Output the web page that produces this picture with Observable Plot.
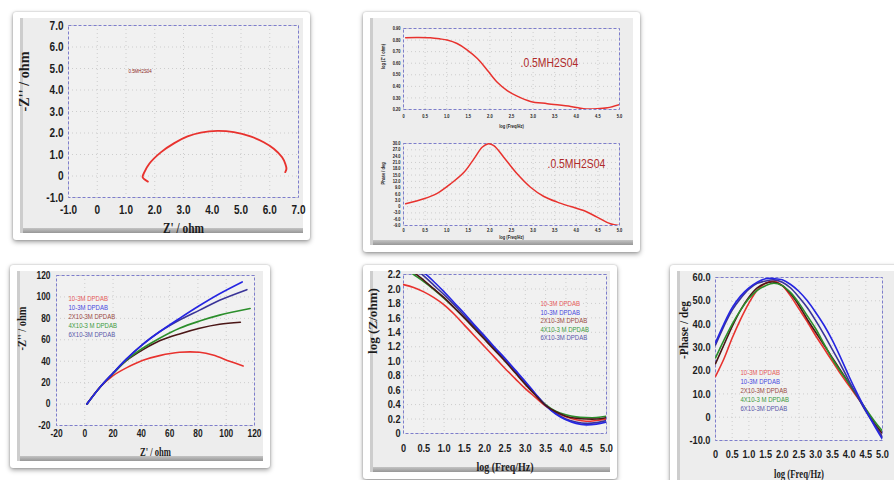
<!DOCTYPE html>
<html>
<head>
<meta charset="utf-8">
<script src="https://cdn.jsdelivr.net/npm/d3@7"></script>
<script src="https://cdn.jsdelivr.net/npm/@observablehq/plot@0.6"></script>
<style>
  html, body { margin: 0; padding: 0; background: #fff; }
  #root { position: relative; width: 894px; height: 480px; overflow: hidden; background: #fff; }
  .card { position: absolute; background: #fff; border-radius: 3px;
          box-shadow: 0 2px 5px rgba(0,0,0,0.38), 0 0 2px rgba(0,0,0,0.25); }
  .inner { position: absolute;
           background: linear-gradient(to top, #979797 0px, #c4c4c4 5px, #ededed 5px, #ededed 100%);
           box-shadow: inset 3px 0 0 #cdcdcd; }
</style>
</head>
<body>
<div id="root"></div>
<script>
// ---------------- DATA ----------------
// Panel A: Nyquist, 0.5M H2SO4
const acidZre = [1.76, 1.58, 1.64, 1.81, 2.22, 2.68, 3.14, 3.60, 4.18, 4.75, 5.33, 5.79, 6.14, 6.43, 6.54, 6.58, 6.54];
const acidZim = [-0.26, -0.06, 0.18, 0.57, 1.11, 1.53, 1.84, 2.02, 2.10, 2.04, 1.84, 1.57, 1.27, 0.87, 0.57, 0.33, 0.18];
const acidNyqLabel = "0.5MH2S04";

// Panel B: Bode |Z|, 0.5M H2SO4
const acidLogF = [0.05, 0.3, 0.62, 0.85, 1.01, 1.24, 1.47, 1.71, 1.94, 2.17, 2.40, 2.63, 2.94, 3.33, 3.87, 4.17, 4.48, 4.72, 5.0];
const acidLogZ = [0.82, 0.822, 0.82, 0.81, 0.80, 0.77, 0.716, 0.64, 0.54, 0.436, 0.364, 0.315, 0.27, 0.25, 0.226, 0.206, 0.206, 0.215, 0.243];
// Panel C: Bode phase, 0.5M H2SO4
const acidPhLogF = [0.05, 0.47, 0.78, 1.09, 1.40, 1.63, 1.82, 1.95, 2.09, 2.32, 2.63, 2.94, 3.25, 3.56, 3.87, 4.17, 4.48, 4.79, 5.0];
const acidPhase = [1.3, 3.7, 6.3, 10.8, 16.3, 22.7, 28.2, 29.8, 29.0, 23.5, 15.6, 9.2, 4.8, 2.1, 0.0, -1.9, -5.0, -8.2, -9.0];
const acidBodeLabel = ".0.5MH2S04";

// DPDAB series
const seriesNames = ["10-3M DPDAB", "10-3M DPDAB", "2X10-3M DPDAB", "4X10-3 M DPDAB", "6X10-3M DPDAB"];
const lineColors = ["#e8322e", "#2525e2", "#4a1616", "#2b8e2b", "#3a3498"];
const legendColors = ["#e65a5a", "#4848e0", "#9a4a42", "#3c9a3c", "#5858a8"];

// Panel D: Nyquist, DPDAB (per series: red, blue, brown, green, navy)
const nyqZre = [
  [1.5, 10.6, 20, 29.4, 41.2, 52.9, 67, 81.2, 90.6, 102.4, 112],
  [1.5, 10.6, 20, 29.4, 41.2, 52.9, 67, 81.2, 95.3, 111.3],
  [1.5, 10.6, 20, 29.4, 41.2, 52.9, 67, 81.2, 95.3, 110],
  [1.5, 10.6, 20, 29.4, 41.2, 52.9, 67, 81.2, 95.3, 116.9],
  [1.5, 10.6, 20, 29.4, 41.2, 52.9, 67, 81.2, 95.3, 114.6]
];
const nyqZim = [
  [0, 15.4, 26.5, 33.8, 40.9, 45.2, 48.3, 48.3, 45.8, 40, 35.5],
  [0, 15.5, 29, 42, 56, 67.5, 80, 92, 103, 114],
  [0, 15.5, 28.5, 40.5, 50.8, 59, 65.5, 70.8, 74.5, 76.3],
  [0, 15.5, 28.5, 41, 52.3, 61.5, 70.8, 77.5, 83, 89.2],
  [0, 15.5, 29, 42, 56, 67.5, 78.5, 87.7, 96.9, 106.8]
];

// Panels E, F: Bode, DPDAB
const bodeLogF = [0, 0.25, 0.5, 0.75, 1.0, 1.25, 1.5, 1.75, 2.0, 2.25, 2.5, 2.75, 3.0, 3.25, 3.5, 3.75, 4.0, 4.25, 4.5, 4.75, 5.0];
const bodeLogZ = [
  [2.06, 2.02, 1.96, 1.88, 1.78, 1.65, 1.5, 1.35, 1.2, 1.05, 0.9, 0.76, 0.62, 0.5, 0.38, 0.3, 0.23, 0.19, 0.17, 0.18, 0.2],
  [2.45, 2.36, 2.23, 2.1, 1.96, 1.81, 1.66, 1.5, 1.35, 1.19, 1.04, 0.88, 0.72, 0.55, 0.39, 0.27, 0.19, 0.14, 0.12, 0.13, 0.16],
  [2.32, 2.23, 2.12, 2.0, 1.88, 1.74, 1.6, 1.45, 1.3, 1.15, 1.0, 0.84, 0.68, 0.53, 0.39, 0.3, 0.24, 0.21, 0.2, 0.2, 0.22],
  [2.3, 2.2, 2.1, 1.99, 1.87, 1.74, 1.6, 1.46, 1.32, 1.17, 1.02, 0.86, 0.7, 0.54, 0.4, 0.31, 0.26, 0.23, 0.22, 0.22, 0.24],
  [2.4, 2.3, 2.18, 2.05, 1.92, 1.78, 1.63, 1.48, 1.33, 1.17, 1.02, 0.86, 0.7, 0.54, 0.39, 0.28, 0.2, 0.16, 0.14, 0.15, 0.18]
];
const bodePhase = [
  [17.5, 25, 34, 42, 49, 54.5, 57.5, 58.5, 56.5, 52, 46.5, 41, 35, 29.5, 24, 18.5, 13.5, 8.5, 3.5, -2.5, -8.5],
  [32, 40, 47, 52, 55.5, 58, 59.5, 59.5, 59, 57, 54, 50, 45, 39.5, 33, 25.5, 17.5, 10, 3, -3.5, -9.5],
  [23, 31, 39, 46, 51.5, 55.5, 57.5, 58, 56.5, 53, 48, 42, 36.5, 31, 25.5, 20, 14.5, 9, 3, -2.5, -7],
  [25.5, 33, 40, 46, 51, 54.5, 56.5, 57.5, 56.5, 53.5, 49, 43.5, 38, 31.5, 25, 19.5, 14.5, 9, 3.5, -1.5, -6],
  [31, 39, 46, 51, 55, 57.5, 58.5, 59, 58, 55.5, 51.5, 47, 41.5, 35.5, 29, 22.5, 15.5, 9, 2.5, -3, -8.5]
];

// Tick values
const ticksAcidNyq = [-1, 0, 1, 2, 3, 4, 5, 6, 7];
const ticksLogF = [0, 0.5, 1, 1.5, 2, 2.5, 3, 3.5, 4, 4.5, 5];
const ticksAcidLogZ = [0.2, 0.3, 0.4, 0.5, 0.6, 0.7, 0.8, 0.9];
const ticksAcidPhase = [-9, -6, -3, 0, 3, 6, 9, 12, 15, 18, 21, 24, 27, 30];
const ticksNyq = [-20, 0, 20, 40, 60, 80, 100, 120];
const ticksLogZ = [0, 0.2, 0.4, 0.6, 0.8, 1.0, 1.2, 1.4, 1.6, 1.8, 2.0, 2.2];
const ticksPhase = [-10, 0, 10, 20, 30, 40, 50, 60];

// ---------------- RENDER ----------------
const root = document.getElementById("root");
const TICK_FONT = "'Liberation Sans',Arial,sans-serif";
const TITLE_FONT = "'Liberation Serif','Times New Roman',serif";
const NARROW = 0.8;   // horizontal squeeze, imitating the original's narrow lettering
const fmt1 = d => d === 0 ? "0" : d.toFixed(1);
const fmt2 = d => d.toFixed(2);
const fmt0 = d => String(d);

function card(l, t, r, b) {
  const c = document.createElement("div");
  c.className = "card";
  Object.assign(c.style, {left: l + "px", top: t + "px", width: (r - l) + "px", height: (b - t) + "px"});
  const i = document.createElement("div");
  i.className = "inner";
  Object.assign(i.style, {left: "7px", top: "6px", right: "7px", bottom: "7px"});
  c.appendChild(i);
  root.appendChild(c);
}

function pts(xs, ys) { return xs.map((x, i) => ({x, y: ys[i]})); }

function chart(cfg) {
  const [L, T, W, H] = cfg.box;
  const [fl, ft, fr, fb] = cfg.frame;
  const marks = [
    Plot.frame({fill: "#f1f1f1", stroke: "none"}),
    Plot.gridX({ticks: cfg.xTicks, stroke: "#cdcdcd", strokeOpacity: 1, strokeDasharray: "1,3"}),
    Plot.gridY({ticks: cfg.yTicks, stroke: "#cdcdcd", strokeOpacity: 1, strokeDasharray: "1,3"}),
    Plot.frame({stroke: "#7d7dcc", strokeDasharray: "3,2", fill: "none"}),
    ...cfg.marks,
    Plot.axisX({ticks: cfg.xTicks, tickSize: 0, tickPadding: cfg.xPad, tickFormat: cfg.xFmt,
      fontSize: cfg.tickSize, fontWeight: "bold", fontFamily: TICK_FONT, fill: "#1c1c1c", label: null}),
    Plot.axisY({ticks: cfg.yTicks, tickSize: 0, tickPadding: cfg.yPad, tickFormat: cfg.yFmt,
      fontSize: cfg.tickSize, fontWeight: "bold", fontFamily: TICK_FONT, fill: "#1c1c1c", label: null}),
    Plot.text([cfg.xTitle], {text: d => d, frameAnchor: "bottom", dy: cfg.xTitleDy, lineAnchor: "middle",
      fontSize: cfg.titleSize, fontWeight: "bold", fontFamily: cfg.titleFont || TITLE_FONT, fill: "#1c1c1c"}),
    Plot.text([cfg.yTitle], {text: d => d, frameAnchor: "left", dx: cfg.yTitleDx, rotate: -90, lineAnchor: "middle",
      fontSize: cfg.titleSize, fontWeight: "bold", fontFamily: cfg.titleFont || TITLE_FONT, fill: "#1c1c1c"})
  ];
  const p = Plot.plot({
    width: W, height: H,
    marginLeft: fl - L, marginRight: L + W - fr, marginTop: ft - T, marginBottom: T + H - fb,
    x: {domain: cfg.x, axis: null},
    y: {domain: cfg.y, axis: null},
    style: {background: "transparent", overflow: "visible", maxWidth: "none", fontFamily: TICK_FONT},
    marks
  });
  Object.assign(p.style, {position: "absolute", left: L + "px", top: T + "px"});
  root.appendChild(p);
  // squeeze lettering horizontally (titles to measured widths, other texts by a factor)
  d3.select(p).selectAll("text").each(function() {
    const s = this.textContent;
    let len = null;
    if (s === cfg.xTitle && cfg.xTitleLen) len = cfg.xTitleLen;
    else if (s === cfg.yTitle && cfg.yTitleLen) len = cfg.yTitleLen;
    else {
      const w = this.getComputedTextLength();
      if (w > 0) len = w * NARROW;
    }
    if (len) { this.setAttribute("textLength", len.toFixed(1)); this.setAttribute("lengthAdjust", "spacingAndGlyphs"); }
  });
  return p;
}

function seriesLines(xsOf, ysOf, order, width) {
  return order.map(i => Plot.line(pts(xsOf(i), ysOf(i)), {
    x: "x", y: "y", stroke: lineColors[i], strokeWidth: width, curve: "catmull-rom", clip: true
  }));
}
function legend(dx, dy0, step, size) {
  return seriesNames.map((s, i) => Plot.text([s], {
    text: d => d, frameAnchor: "top-left", dx, dy: dy0 + i * step, textAnchor: "start", lineAnchor: "middle",
    fontSize: size, fontFamily: TICK_FONT, fill: legendColors[i]
  }));
}

// Cards
card(13, 12, 310, 240);
card(363, 12, 640, 252);
card(10, 265, 270, 468);
card(363, 265, 617, 479);
card(670, 265, 910, 492);

// Panel A
chart({
  box: [20, 18, 283, 215], frame: [68, 25, 298, 197],
  x: [-1, 7], y: [-1, 7], xTicks: ticksAcidNyq, yTicks: ticksAcidNyq, xFmt: fmt1, yFmt: fmt1,
  tickSize: 12.5, xPad: 8, yPad: 5,
  xTitle: "Z' / ohm", yTitle: "-Z'' / ohm", titleSize: 14, xTitleDy: 31, yTitleDx: -44, xTitleLen: 41, yTitleLen: 60,
  marks: [
    Plot.line(pts(acidZre, acidZim), {x: "x", y: "y", stroke: "#e8322e", strokeWidth: 1.9, curve: "catmull-rom", clip: true}),
    Plot.text([acidNyqLabel], {text: d => d, frameAnchor: "top-left", dx: 60, dy: 46, textAnchor: "start", lineAnchor: "middle",
      fontSize: 5.5, fontFamily: TICK_FONT, fill: "#8b1a1a"})
  ]
});

// Panel B
chart({
  box: [370, 18, 263, 112], frame: [403, 28, 619, 109],
  x: [0, 5], y: [0.2, 0.9], xTicks: ticksLogF, yTicks: ticksAcidLogZ, xFmt: fmt1, yFmt: fmt2,
  tickSize: 5, xPad: 5, yPad: 3,
  xTitle: "log (Freq/Hz)", yTitle: "log (Z' / ohm)", titleSize: 5, titleFont: TICK_FONT, xTitleDy: 17, yTitleDx: -20,
  marks: [
    Plot.line(pts(acidLogF, acidLogZ), {x: "x", y: "y", stroke: "#e8322e", strokeWidth: 1.5, curve: "catmull-rom", clip: true}),
    Plot.text([acidBodeLabel], {text: d => d, frameAnchor: "top-left", dx: 117, dy: 34, textAnchor: "start", lineAnchor: "middle",
      fontSize: 13, fontFamily: TICK_FONT, fill: "#b02a2a"})
  ]
});

// Panel C
chart({
  box: [370, 132, 263, 110], frame: [403, 143, 619, 225],
  x: [0, 5], y: [-9, 30], xTicks: ticksLogF, yTicks: ticksAcidPhase, xFmt: fmt1, yFmt: fmt1,
  tickSize: 5, xPad: 3, yPad: 3,
  xTitle: "log (Freq/Hz)", yTitle: "Phase / deg", titleSize: 5, titleFont: TICK_FONT, xTitleDy: 12, yTitleDx: -20,
  marks: [
    Plot.line(pts(acidPhLogF, acidPhase), {x: "x", y: "y", stroke: "#e8322e", strokeWidth: 1.5, curve: "catmull-rom", clip: true}),
    Plot.text([acidBodeLabel], {text: d => d, frameAnchor: "top-left", dx: 144, dy: 20, textAnchor: "start", lineAnchor: "middle",
      fontSize: 13, fontFamily: TICK_FONT, fill: "#b02a2a"})
  ]
});

// Panel D
chart({
  box: [17, 271, 246, 190], frame: [56, 275, 254, 425],
  x: [-20, 120], y: [-20, 120], xTicks: ticksNyq, yTicks: ticksNyq, xFmt: fmt0, yFmt: fmt0,
  tickSize: 10.5, xPad: 4, yPad: 6,
  xTitle: "Z' / ohm", yTitle: "-Z'' / ohm", titleSize: 12, xTitleDy: 27, yTitleDx: -34, xTitleLen: 31, yTitleLen: 44,
  marks: [
    ...seriesLines(i => nyqZre[i], i => nyqZim[i], [0, 2, 3, 4, 1], 1.6),
    ...legend(12, 23, 9, 7.5)
  ]
});

// Panel E
chart({
  box: [370, 271, 240, 201], frame: [403, 274, 606, 433],
  x: [0, 5], y: [0, 2.2], xTicks: ticksLogF, yTicks: ticksLogZ, xFmt: fmt1, yFmt: fmt1,
  tickSize: 11.5, xPad: 10, yPad: 3,
  xTitle: "log (Freq/Hz)", yTitle: "log (Z/ohm)", titleSize: 13, xTitleDy: 33, yTitleDx: -31, xTitleLen: 57, yTitleLen: 66,
  marks: [
    ...seriesLines(() => bodeLogF, i => bodeLogZ[i], [0, 3, 4, 1, 2], 1.6),
    ...legend(137, 29, 8.6, 7.5)
  ]
});

// Panel F
chart({
  box: [677, 271, 217, 209], frame: [715, 277, 882, 440],
  x: [0, 5], y: [-10, 60], xTicks: ticksLogF, yTicks: ticksPhase, xFmt: fmt1, yFmt: fmt1,
  tickSize: 11.5, xPad: 9, yPad: 5,
  xTitle: "log (Freq/Hz)", yTitle: "-Phase / deg", titleSize: 13, xTitleDy: 33, yTitleDx: -32, xTitleLen: 50, yTitleLen: 58,
  marks: [
    ...seriesLines(() => bodeLogF, i => bodePhase[i], [0, 2, 3, 4, 1], 1.6),
    ...legend(25, 95, 9, 7.5)
  ]
});
</script>
</body>
</html>
